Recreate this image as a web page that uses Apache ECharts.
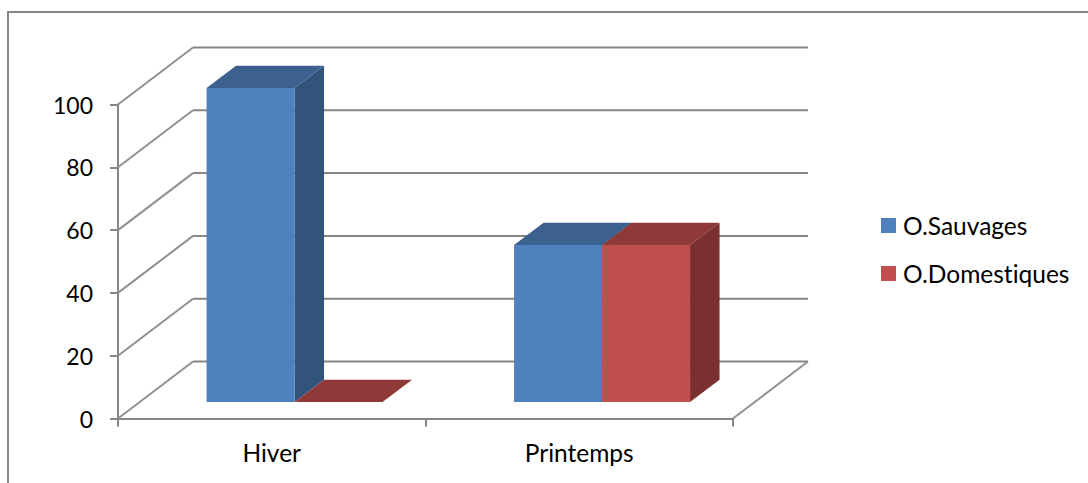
<!DOCTYPE html>
<html>
<head>
<meta charset="utf-8">
<style>html,body{margin:0;padding:0;background:#fff}#c{width:1088px;height:483px}#c text{font-variant-ligatures:none}</style>
<script src="https://cdn.jsdelivr.net/npm/echarts@6/dist/echarts.min.js"></script>
</head>
<body>
<div id="c"></div>
<script>
const categories = ['Hiver', 'Printemps'];
const sauvages = [100, 50];
const domestiques = [0, 50];
const yTicks = [0, 20, 40, 60, 80, 100];

const FONT = 'Lato, Carlito, "Open Sans", sans-serif';
const LINE = '#868686';
const WALL_DX = 75, WALL_DY = -57;
const BAR_WIDTH = 88, BAR_DX = 22.8, BAR_DY = -16.5, DEPTH_DX = 29.5, DEPTH_DY = -22.3;

const chart = echarts.init(document.getElementById('c'), null, {renderer: 'svg'});

function wallItem(params, api) {
  const cs = params.coordSys;
  const y = api.coord([0, api.value(0)])[1];
  const left = cs.x, right = cs.x + cs.width;
  const backX = left + WALL_DX, backY = y + WALL_DY;
  const children = [
    {type: 'line', shape: {x1: left, y1: y, x2: backX, y2: backY}, style: {stroke: '#909090', lineWidth: 2}},
    {type: 'line', shape: {x1: backX, y1: backY, x2: right + WALL_DX, y2: backY}, style: {stroke: LINE, lineWidth: 2}}
  ];
  if (api.value(0) === 0) {
    children.push({type: 'line', shape: {x1: right, y1: y, x2: right + WALL_DX, y2: backY}, style: {stroke: '#909090', lineWidth: 2}});
  }
  return {type: 'group', silent: true, children};
}

function barRenderer(slot, front, top, side) {
  return function (params, api) {
    const cat = api.value(0), val = api.value(1);
    const base = api.coord([cat, 0]);
    const peak = api.coord([cat, val]);
    const x0 = base[0] + BAR_DX + (slot - 1) * BAR_WIDTH;
    const x1 = x0 + BAR_WIDTH;
    const y0 = base[1] + BAR_DY;
    const y1 = peak[1] + BAR_DY;
    const poly = (points, fill) => ({type: 'polygon', shape: {points}, style: {fill}});
    return {type: 'group', silent: true, children: [
      poly([[x1, y0], [x1 + DEPTH_DX, y0 + DEPTH_DY], [x1 + DEPTH_DX, y1 + DEPTH_DY], [x1, y1]], side),
      poly([[x0, y1], [x1, y1], [x1 + DEPTH_DX, y1 + DEPTH_DY], [x0 + DEPTH_DX, y1 + DEPTH_DY]], top),
      poly([[x0, y0], [x1, y0], [x1, y1], [x0, y1]], front)
    ]};
  };
}

chart.setOption({
  animation: false,
  backgroundColor: '#fff',
  graphic: [{
    type: 'polyline', silent: true, z: 0,
    shape: {points: [[8, 483], [8, 12], [1088, 12]]},
    style: {stroke: LINE, lineWidth: 2, fill: null}
  }],
  grid: {left: 118, top: 104.5, width: 615, height: 314},
  legend: {
    orient: 'vertical', left: 876, top: 208, itemWidth: 15, itemHeight: 15, itemGap: 23,
    icon: 'rect', selectedMode: false,
    data: ['O.Sauvages', 'O.Domestiques'],
    textStyle: {fontFamily: FONT, fontSize: 24.5, color: '#000', padding: [0, 0, 3, 2]}
  },
  xAxis: {
    type: 'category', data: categories,
    axisLine: {lineStyle: {color: LINE, width: 2}},
    axisTick: {show: true, length: 8, lineStyle: {color: LINE, width: 2}},
    axisLabel: {fontFamily: FONT, fontSize: 24.5, color: '#000', margin: 21}
  },
  yAxis: {
    type: 'value', min: 0, max: 100, interval: 20,
    splitLine: {show: false},
    axisLine: {show: true, lineStyle: {color: LINE, width: 2}},
    axisTick: {show: true, length: 8, lineStyle: {color: LINE, width: 2}},
    axisLabel: {fontFamily: FONT, fontSize: 23, color: '#000', margin: 25, padding: [3, 0, 0, 0]}
  },
  series: [
    {type: 'custom', name: 'walls', coordinateSystem: 'cartesian2d', clip: false, z: 1,
     data: yTicks.map(t => [t]), encode: {y: 0}, renderItem: wallItem},
    {type: 'custom', name: 'O.Sauvages', coordinateSystem: 'cartesian2d', clip: false, z: 2,
     itemStyle: {color: '#4F81BD'},
     data: sauvages.map((v, i) => [i, v]), encode: {x: 0, y: 1},
     renderItem: barRenderer(0, '#4F81BD', '#3C618F', '#32537A')},
    {type: 'custom', name: 'O.Domestiques', coordinateSystem: 'cartesian2d', clip: false, z: 3,
     itemStyle: {color: '#C0504D'},
     data: domestiques.map((v, i) => [i, v]), encode: {x: 0, y: 1},
     renderItem: barRenderer(1, '#C0504D', '#8F3A38', '#7A302E')}
  ]
});
</script>
</body>
</html>
